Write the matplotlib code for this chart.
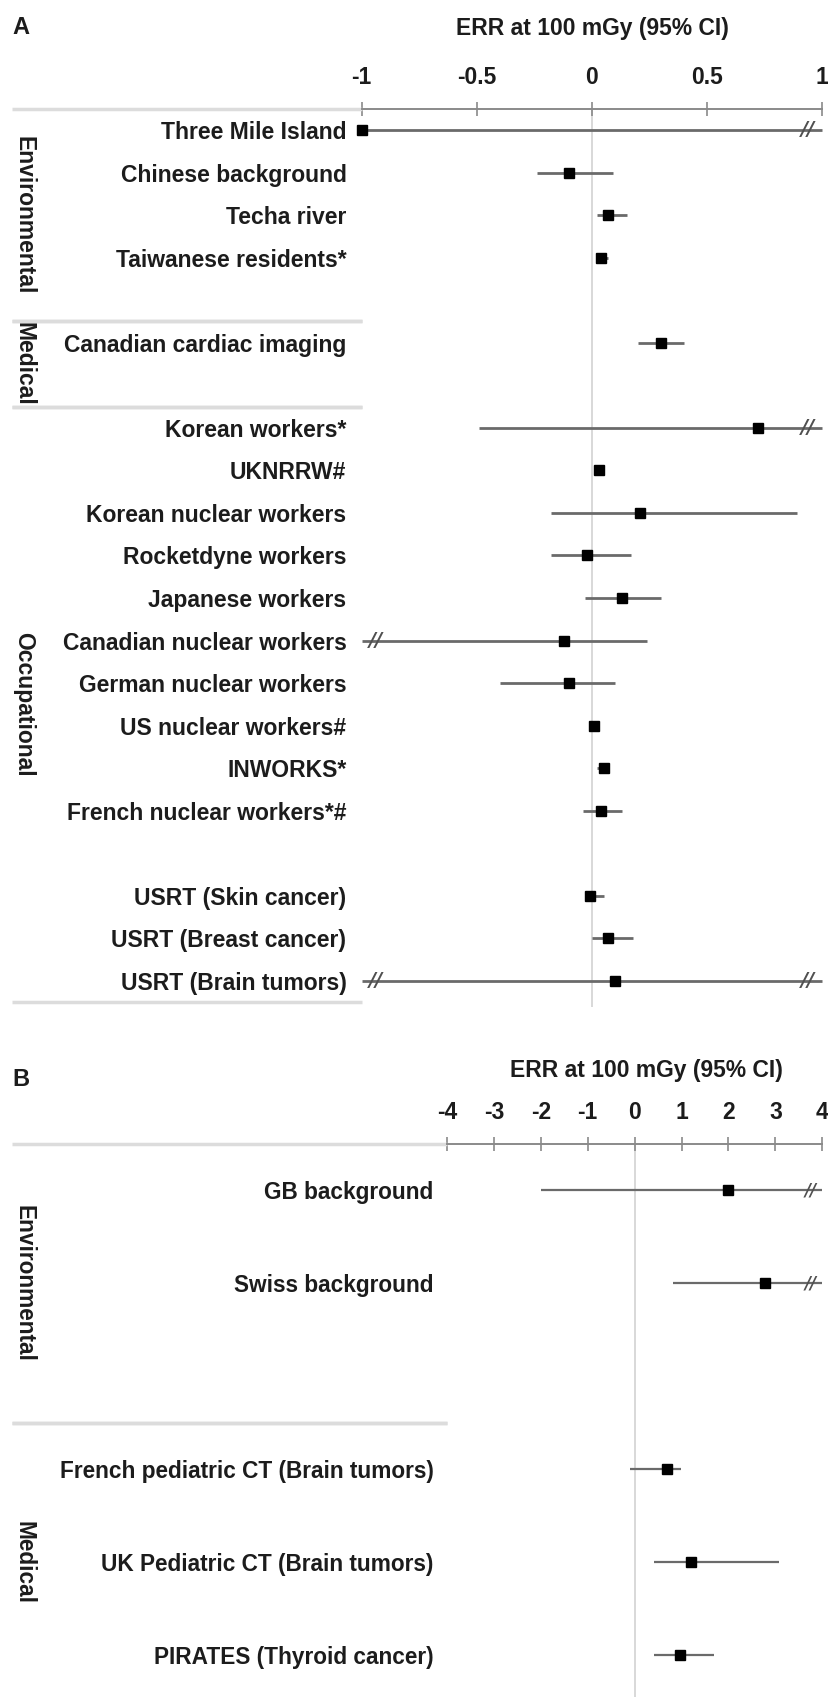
import numpy as np
import matplotlib
matplotlib.use('Agg')
import matplotlib.pyplot as plt

plt.rcParams['font.family'] = ['Liberation Sans', 'DejaVu Sans']
plt.rcParams['font.weight'] = 'bold'
plt.rcParams['axes.unicode_minus'] = False

# panel A data (np.inf = CI goes off the scale, drawn with a break)
labels_a = ["Three Mile Island", "Chinese background", "Techa river", "Taiwanese residents*", "",
            "Canadian cardiac imaging", "",
            "Korean workers*", "UKNRRW#", "Korean nuclear workers", "Rocketdyne workers",
            "Japanese workers", "Canadian nuclear workers", "German nuclear workers",
            "US nuclear workers#", "INWORKS*", "French nuclear workers*#", "",
            "USRT (Skin cancer)", "USRT (Breast cancer)", "USRT (Brain tumors)"]
err_a = [-1.0, -0.10, 0.07, 0.04, np.nan, 0.30, np.nan,
         0.72, 0.03, 0.21, -0.02, 0.13, -0.12, -0.10, 0.01, 0.05, 0.04, np.nan,
         -0.01, 0.07, 0.10]
lo_a = [-1.0, -0.24, 0.02, 0.02, np.nan, 0.20, np.nan,
        -0.49, 0.02, -0.18, -0.18, -0.03, -np.inf, -0.40, -0.01, 0.02, -0.04, np.nan,
        -0.03, 0.00, -np.inf]
hi_a = [np.inf, 0.09, 0.15, 0.07, np.nan, 0.40, np.nan,
        np.inf, 0.04, 0.89, 0.17, 0.30, 0.24, 0.10, 0.03, 0.07, 0.13, np.nan,
        0.05, 0.18, np.inf]
groups_a = [("Environmental", 0, 4), ("Medical", 5, 6), ("Occupational", 7, 20)]
ticks_a = [-1, -0.5, 0, 0.5, 1]
ticklabels_a = ["-1", "-0.5", "0", "0.5", "1"]

# panel B data
labels_b = ["GB background", "Swiss background", "",
            "French pediatric CT (Brain tumors)", "UK Pediatric CT (Brain tumors)",
            "PIRATES (Thyroid cancer)"]
err_b = [2.0, 2.78, np.nan, 0.70, 1.21, 0.96]
lo_b = [-2.0, 0.81, np.nan, -0.09, 0.42, 0.42]
hi_b = [np.inf, np.inf, np.nan, 0.98, 3.08, 1.69]
groups_b = [("Environmental", 0, 2), ("Medical", 3, 5)]
ticks_b = [-4, -3, -2, -1, 0, 1, 2, 3, 4]
ticklabels_b = ["-4", "-3", "-2", "-1", "0", "1", "2", "3", "4"]

W, H = 829, 1697
fig = plt.figure(figsize=(W / 100, H / 100), dpi=100)
TXT = '#1c1c1c'


def panel(left, right, top, bottom, ylim, labels, est, lo, hi, xlim, ticks, ticklabels,
          groups, lw, ms, lab_pad, lab_size, brk_size, title, title_x, title_y, letter, letter_y):
    ax = fig.add_axes([left / W, 1 - bottom / H, (right - left) / W, (bottom - top) / H])
    ax.set_xlim(xlim)
    ax.set_ylim(ylim)
    span = xlim[1] - xlim[0]
    rows = np.arange(len(labels))

    ax.axvline(0, color='#d2d2d2', lw=1.2, zorder=0)
    brk = dict(ha='center', va='center', fontsize=brk_size, fontweight='bold', style='italic',
               color='#505050', family='DejaVu Sans', zorder=4)
    for y, e, l, h in zip(rows, est, lo, hi):
        if np.isnan(e):
            continue
        ax.plot([max(l, xlim[0]), min(h, xlim[1])], [y, y], color='#6a6a6a', lw=lw,
                solid_capstyle='butt', zorder=2, clip_on=False)
        ax.plot(e, y, 's', color='black', ms=ms, zorder=3, clip_on=False)
        if l < xlim[0]:
            ax.text(xlim[0] + 0.03 * span, y, '//', **brk)
        if h > xlim[1]:
            ax.text(xlim[1] - 0.03 * span, y, '//', **brk)

    for s in ['left', 'right', 'bottom']:
        ax.spines[s].set_visible(False)
    ax.spines['top'].set_color('#8a8a8a')
    ax.spines['top'].set_linewidth(1.4)

    ax.xaxis.tick_top()
    ax.set_xticks(ticks, ticklabels)
    ax.tick_params(axis='x', direction='inout', length=10, width=1.2, colors='#8a8a8a',
                   labelcolor=TXT, labelsize=16.5, pad=9)

    keep = [i for i, t in enumerate(labels) if t]
    ax.set_yticks(rows[keep], [labels[i] for i in keep])
    ax.tick_params(axis='y', length=0, pad=lab_pad, labelsize=lab_size, labelcolor=TXT)

    # group separators and labels
    trans = ax.get_yaxis_transform()
    wpx = right - left
    x0 = (12 - left) / wpx
    for name, g0, g1 in groups:
        ax.plot([x0, 0], [g0 - 0.5, g0 - 0.5], transform=trans, color='#dcdcdc', lw=2.5,
                clip_on=False, solid_capstyle='butt')
        if g1 + 0.5 < ylim[0]:
            ax.plot([x0, 0], [g1 + 0.5, g1 + 0.5], transform=trans, color='#dcdcdc', lw=2.5,
                    clip_on=False, solid_capstyle='butt')
        ax.text((24 - left) / wpx, (g0 + g1) / 2, name, transform=trans, rotation=-90,
                ha='center', va='center', fontsize=lab_size, color=TXT)

    fig.text(title_x / W, 1 - title_y / H, title, ha='center', va='center',
             fontsize=16.5, color=TXT)
    fig.text(12 / W, 1 - letter_y / H, letter, ha='left', va='center', fontsize=17, color=TXT)
    return ax


panel(361.7, 822.3, 108.7, 1006.5, (20.6, -0.5), labels_a, err_a, lo_a, hi_a, (-1, 1),
      ticks_a, ticklabels_a, groups_a, 2.0, 7, 11, 16.5, 14,
      "ERR at 100 mGy (95% CI)", 592, 28, "A", 28)

panel(446.9, 822.3, 1143.5, 1697, (5.45, -0.5), labels_b, err_b, lo_b, hi_b, (-4, 4),
      ticks_b, ticklabels_b, groups_b, 1.6, 6.5, 9.5, 16.3, 12,
      "ERR at 100 mGy (95% CI)", 646, 1071, "B", 1080)

fig.savefig('out.png', dpi=100)
